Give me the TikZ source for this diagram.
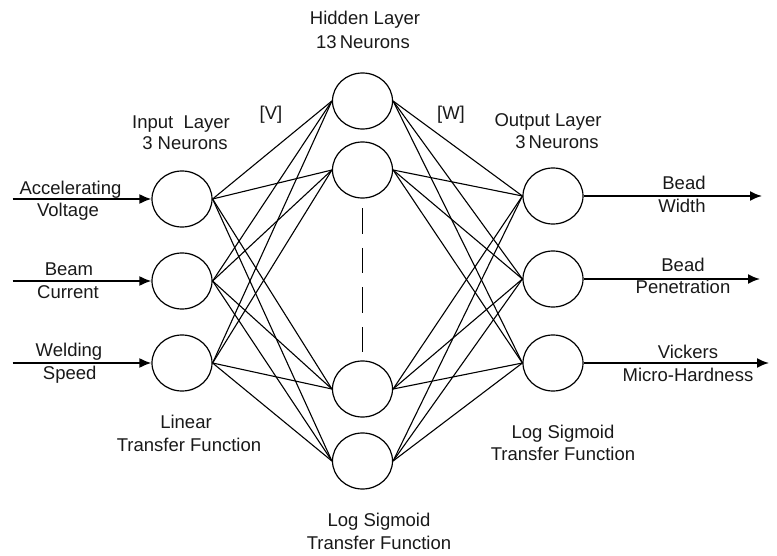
\documentclass[tikz,border=0pt]{standalone}
\usepackage{fontspec}
\setmainfont{Liberation Sans}
\usetikzlibrary{arrows.meta,shapes.geometric}
\begin{document}
\begin{tikzpicture}[x=1pt,y=-1pt,
  neuron/.style={draw,ellipse,minimum width=60pt,minimum height=56pt,inner sep=0pt,line width=1.2pt},
  lbl/.style={anchor=base,inner sep=0pt,font=\fontsize{18.5}{22}\selectfont,text=black!90},
  wire/.style={line width=1.1pt},
  io/.style={line width=1.8pt,-{Latex[length=12pt,width=10pt]}}]
\useasboundingbox (0,0) rectangle (777,556);

% input layer
\node[neuron] (i1) at (182,199) {};
\node[neuron] (i2) at (182,281) {};
\node[neuron] (i3) at (182,363) {};
% hidden layer
\node[neuron] (h1) at (362.5,101) {};
\node[neuron] (h2) at (362.5,170) {};
\node[neuron] (h3) at (362.5,389) {};
\node[neuron] (h4) at (362.5,461) {};
% output layer
\node[neuron] (o1) at (553,196) {};
\node[neuron] (o2) at (553,279) {};
\node[neuron] (o3) at (553,363) {};

% connections
\foreach \i in {1,2,3}
  \foreach \j in {1,2,3,4}
    \draw[wire] (i\i.east) -- (h\j.west);
\foreach \j in {1,2,3,4}
  \foreach \k in {1,2,3}
    \draw[wire] (h\j.east) -- (o\k.west);

% dashed ellipsis in hidden layer
\draw[line width=1.3pt,dash pattern=on 25.6pt off 14pt,shorten <=9.7pt,shorten >=8pt] (h2.south) -- (h3.north);

% input arrows
\coordinate (a1) at (12.7,199);
\coordinate (a2) at (12.7,281);
\coordinate (a3) at (12.7,363);
\draw[io] (a1) -- (i1.west);
\draw[io] (a2) -- (i2.west);
\draw[io] (a3) -- (i3.west);
% output arrows
\coordinate (b1) at (762,196);
\coordinate (b2) at (760,279);
\coordinate (b3) at (769,363);
\draw[io] (o1.east) -- (b1);
\draw[io] (o2.east) -- (b2);
\draw[io] (o3.east) -- (b3);

% input labels
\node[lbl] (t1a) at (70.5,195) {Accelerating};
\node[lbl] (t1b) at (68,217) {Voltage};
\node[lbl] (t2a) at (69,276) {Beam};
\node[lbl] (t2b) at (68,299) {Current};
\node[lbl] (t3a) at (69,356.7) {Welding};
\node[lbl] (t3b) at (69.7,379) {Speed};

% output labels
\node[lbl] (u1a) at (684,190) {Bead};
\node[lbl] (u1b) at (682,212.7) {Width};
\node[lbl] (u2a) at (683,271.7) {Bead};
\node[lbl] (u2b) at (683,293.3) {Penetration};
\node[lbl] (u3a) at (688,358.3) {Vickers};
\node[lbl] (u3b) at (688,381.7) {Micro-Hardness};

% layer titles
\node[lbl] (hl1) at (365,25) {Hidden Layer};
\node[lbl] (hl2) at (363,48.3) {13\,Neurons};
\node[lbl] (il1) at (181,128.3) {Input\ \ Layer};
\node[lbl] (il2) at (185,150) {3 Neurons};
\node[lbl] (ol1) at (548,126.7) {Output Layer};
\node[lbl] (ol2) at (557,148.3) {3\,Neurons};
\node[lbl] (vv) at (271,120) {[V]};
\node[lbl] (ww) at (451,120) {[W]};

% transfer functions
\node[lbl] (lf1) at (186,428.3) {Linear};
\node[lbl] (lf2) at (189,451.7) {Transfer Function};
\node[lbl] (sf1) at (563,438) {Log Sigmoid};
\node[lbl] (sf2) at (563,460.7) {Transfer Function};
\node[lbl] (hf1) at (379,526.7) {Log Sigmoid};
\node[lbl] (hf2) at (379,549.3) {Transfer Function};
\end{tikzpicture}
\end{document}
